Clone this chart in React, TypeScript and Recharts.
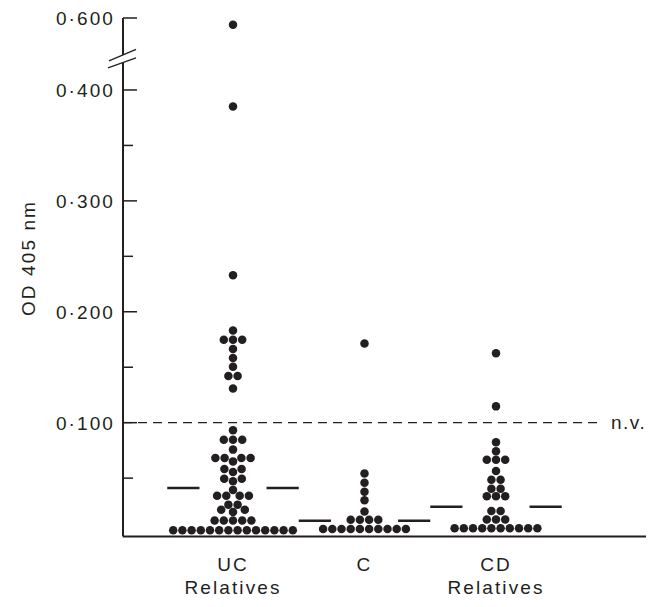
import { ScatterChart, Scatter, XAxis, YAxis, ReferenceLine } from 'recharts'

// groups on the x axis
const groupNames = ['UC', 'C', 'CD']
const groupSubNames = ['Relatives', '', 'Relatives']

// OD 405 nm readings, one entry per subject
const ucValues = [
  0.594, 0.385, 0.233,
  0.1832, 0.1748, 0.1748, 0.1748, 0.1664, 0.1583, 0.1505, 0.142, 0.142, 0.1309,
  0.0931, 0.0847, 0.0847, 0.0847, 0.0757,
  0.0682, 0.0682, 0.0682, 0.0682, 0.0651,
  0.0583, 0.0583, 0.0556, 0.0495, 0.0495, 0.0471, 0.0394,
  0.0342, 0.0342, 0.0342, 0.0342,
  0.0261, 0.0261, 0.0214, 0.0214, 0.0195,
  0.0117, 0.0117, 0.0117, 0.0117, 0.0117,
  0.003, 0.003, 0.003, 0.003, 0.003, 0.003, 0.003,
  0.003, 0.003, 0.003, 0.003, 0.003, 0.003, 0.003,
]
const cValues = [
  0.1714, 0.0541, 0.0459, 0.0378, 0.03, 0.0198,
  0.0125, 0.0125, 0.0125, 0.0125,
  0.0042, 0.0042, 0.0042, 0.0042, 0.0042, 0.0042, 0.0042, 0.0042, 0.0042, 0.0042,
]
const cdValues = [
  0.1625, 0.1147, 0.0823, 0.0742, 0.0565,
  0.0665, 0.0665, 0.0665,
  0.0486, 0.0486, 0.0405, 0.0405,
  0.0336, 0.0336, 0.0336,
  0.0203, 0.0203,
  0.0126, 0.0126, 0.0126,
  0.0048, 0.0048, 0.0048, 0.0048, 0.0048, 0.0048, 0.0048, 0.0048, 0.0048, 0.0048,
]
const groupValues = [ucValues, cValues, cdValues]
const groupMeans = [0.041, 0.0116, 0.0243]
const normalValue = 0.1 // n.v.

const yMajorTicks = [0.1, 0.2, 0.3, 0.4, 0.6]
const yMinorTicks = [0.05, 0.15, 0.25, 0.35]

// layout
const INK = '#231f20'
const FONT = '"Liberation Sans", Arial, Helvetica, sans-serif'
const FONT_SIZE = 19
const TRACKING = 2.1
const WIDTH = 657
const HEIGHT = 607
const PLOT_LEFT = 123
const PLOT_RIGHT = 646
const PLOT_TOP = 18
const PLOT_BOTTOM = 536.5
const X_PX = 131.5 // px per group step
const X_MIN = 0.1635
const X_MAX = X_MIN + (PLOT_RIGHT - PLOT_LEFT) / X_PX
const Y_PX = 1109 // px per OD unit
const AXIS_TOP_REAL = 0.6
const Y_MAX = 0.4649
const SKIP = AXIS_TOP_REAL - Y_MAX // part of the axis cut out by the break
const BREAK_AT = 0.428
const Y_MIN = Y_MAX - (PLOT_BOTTOM - PLOT_TOP) / Y_PX
const NV_END = X_MIN + (603 - PLOT_LEFT) / X_PX

const toDisplay = (v: number) => (v > 0.45 ? v - SKIP : v)
const toReal = (v: number) => (v > BREAK_AT ? v + SKIP : v)

// dot plot stacking: equal values share a row, rows avoid earlier dots
const DX = 9.2
const DY = 8.3

function rowOffsets(n: number, s: number) {
  const xs: number[] = []
  if (n % 2 === 0) {
    for (let k = 0; k < n / 2; k++) xs.push(-(DX / 2 + s + k * DX), DX / 2 + s + k * DX)
  } else if (s === 0) {
    for (let k = -(n - 1) / 2; k <= (n - 1) / 2; k++) xs.push(k * DX)
  } else {
    for (let k = 0; k < (n + 1) / 2; k++) xs.push(-(s + k * DX))
    for (let k = 0; k < (n - 1) / 2; k++) xs.push(s + k * DX)
  }
  return xs
}

function swarm(values: number[], center: number) {
  const rows = new Map<number, number>()
  values.forEach(v => rows.set(v, (rows.get(v) || 0) + 1))
  const order = [...rows.entries()].sort((a, b) => a[1] - b[1] || b[0] - a[0])
  const placed: { x: number; y: number }[] = []
  const hits = (x: number, y: number) =>
    placed.some(p => ((x - p.x) / DX) ** 2 + ((y - p.y) / DY) ** 2 < 0.999)
  const out: { x: number; y: number }[] = []
  for (const [v, n] of order) {
    const y = toDisplay(v) * Y_PX
    for (let i = 0; i < 2000; i++) {
      const xs = rowOffsets(n, i * 0.1)
      if (xs.every(x => !hits(x, y))) {
        xs.forEach(x => {
          placed.push({ x, y })
          out.push({ x: center + x / X_PX, y: toDisplay(v) })
        })
        break
      }
    }
  }
  return out
}

const groupPoints = groupValues.map((vals, i) => swarm(vals, i + 1))

const yTicks = [...yMinorTicks, ...yMajorTicks].map(toDisplay).concat(BREAK_AT).sort((a, b) => a - b)

const Dot = (props: any) => <circle cx={props.cx} cy={props.cy} r={4.25} fill={INK} />

const YTick = (props: any) => {
  const { x, y, payload } = props
  const v = payload.value
  if (Math.abs(v - BREAK_AT) < 1e-9) {
    return (
      <g>
        <polygon points={`${x - 14},${y + 2} ${x + 13},${y - 9.5} ${x + 13},${y - 1} ${x - 15},${y + 9}`} fill="#fff" />
        <line x1={x - 14} y1={y + 2} x2={x + 13} y2={y - 9.5} stroke={INK} strokeWidth={1.3} />
        <line x1={x - 15} y1={y + 9} x2={x + 13} y2={y - 1} stroke={INK} strokeWidth={1.3} />
      </g>
    )
  }
  const real = toReal(v)
  const major = yMajorTicks.some(t => Math.abs(t - real) < 1e-6)
  return (
    <g>
      <line x1={x} x2={x + (major ? 14 : 10)} y1={y} y2={y} stroke={INK} strokeWidth={1.5} />
      {major && (
        <text x={x - 8} y={y} dy="0.36em" textAnchor="end" fill={INK} fontSize={FONT_SIZE} fontFamily={FONT} letterSpacing={TRACKING}>
          {real.toFixed(3).replace('.', '·')}
        </text>
      )}
    </g>
  )
}

const XTick = (props: any) => {
  const { x, y, payload } = props
  const i = Math.round(payload.value) - 1
  return (
    <g fill={INK} fontSize={FONT_SIZE} fontFamily={FONT} letterSpacing={TRACKING}>
      <text x={x} y={y + 32.5} textAnchor="middle">{groupNames[i]}</text>
      {groupSubNames[i] && (
        <text x={x} y={y + 55} textAnchor="middle">{groupSubNames[i]}</text>
      )}
    </g>
  )
}

const YTitle = (props: any) => {
  const vb = props.viewBox || { x: 0, y: PLOT_TOP }
  const cx = vb.x + 35
  const cy = vb.y + 240
  return (
    <text x={cx} y={cy} transform={`rotate(-90, ${cx}, ${cy})`} textAnchor="middle" fill={INK} fontSize={FONT_SIZE} fontFamily={FONT} letterSpacing={TRACKING}>
      OD 405 nm
    </text>
  )
}

export default function App() {
  return (
    <div style={{ position: 'absolute', left: 0, top: 0, background: '#fff' }}>
      <ScatterChart width={WIDTH} height={HEIGHT} margin={{ top: PLOT_TOP, right: WIDTH - PLOT_RIGHT, bottom: 0, left: 0 }}>
        <XAxis
          type="number"
          dataKey="x"
          domain={[X_MIN, X_MAX]}
          allowDataOverflow
          ticks={[1, 2, 3]}
          interval={0}
          tick={<XTick />}
          tickLine={false}
          tickSize={0}
          axisLine={{ stroke: INK, strokeWidth: 2 }}
          height={HEIGHT - PLOT_BOTTOM}
        />
        <YAxis
          type="number"
          dataKey="y"
          domain={[Y_MIN, Y_MAX]}
          allowDataOverflow
          ticks={yTicks}
          interval={0}
          tick={<YTick />}
          tickLine={false}
          tickSize={0}
          tickMargin={0}
          axisLine={{ stroke: INK, strokeWidth: 2 }}
          width={PLOT_LEFT}
          label={<YTitle />}
        />
        <ReferenceLine
          segment={[{ x: X_MIN, y: normalValue }, { x: NV_END, y: normalValue }]}
          stroke={INK}
          strokeWidth={1.3}
          strokeDasharray="9 6"
          ifOverflow="visible"
          label={{ value: 'n.v.', position: 'right', offset: 8, fill: INK, fontSize: FONT_SIZE, fontFamily: FONT, letterSpacing: 1.5 }}
        />
        {groupMeans.map((m, i) =>
          [-1, 1].map(side => (
            <ReferenceLine
              key={`${i}-${side}`}
              segment={[{ x: i + 1 + side * 0.255, y: m }, { x: i + 1 + side * 0.5, y: m }]}
              stroke={INK}
              strokeWidth={2.5}
            />
          ))
        )}
        {groupPoints.map((pts, i) => (
          <Scatter key={groupNames[i]} name={groupNames[i]} data={pts} shape={Dot} isAnimationActive={false} />
        ))}
      </ScatterChart>
    </div>
  )
}
